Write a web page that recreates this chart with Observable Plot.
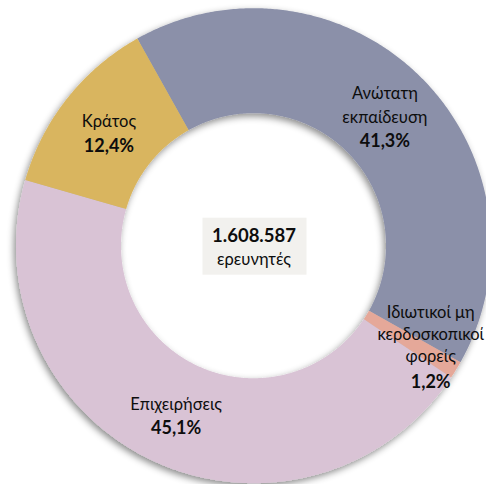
<!DOCTYPE html>
<html>
<head>
<meta charset="utf-8">
<script src="https://cdn.jsdelivr.net/npm/d3@7"></script>
<script src="https://cdn.jsdelivr.net/npm/@observablehq/plot@0.6"></script>
<style>
  html, body { margin: 0; padding: 0; background: #fff; }
  #chart { width: 486px; height: 484px; overflow: hidden; }
</style>
</head>
<body>
<div id="chart"></div>
<script>
// ---- data ----
const sectors = ["Ανώτατη\nεκπαίδευση", "Ιδιωτικοί μη\nκερδοσκοπικοί\nφορείς", "Επιχειρήσεις", "Κράτος"];
const shares = [41.3, 1.2, 45.1, 12.4];
const shareLabels = ["41,3%", "1,2%", "45,1%", "12,4%"];
const colors = ["#8b90a9", "#e5a899", "#d9c3d5", "#d9b55e"];
const totalLabel = "1.608.587";
const totalUnit = "ερευνητές";

// ---- geometry (layout constants) ----
const W = 486, H = 484;
const cx = 253.5, cy = 245.7, R = 237.5;   // pixel centre & outer radius
const inner = 0.558;                        // hole size relative to outer radius
const startDeg = -29.3;                     // first slice angle (clockwise from north)

const total = d3.sum(shares);
let acc = 0;
const slices = sectors.map((name, i) => {
  const a0 = startDeg + acc / total * 360;
  acc += shares[i];
  const a1 = startDeg + acc / total * 360;
  return {name, share: shares[i], label: shareLabels[i], a0, a1, mid: (a0 + a1) / 2};
});

// sample arc outlines for the area mark
const ringPts = [];
for (const s of slices) {
  const n = Math.max(2, Math.ceil((s.a1 - s.a0) / 0.5));
  for (let k = 0; k <= n; k++) {
    const t = (s.a0 + (s.a1 - s.a0) * k / n) * Math.PI / 180;
    ringPts.push({name: s.name, x1: Math.sin(t), y1: Math.cos(t), x2: inner * Math.sin(t), y2: inner * Math.cos(t)});
  }
}

const rl = (1 + inner) / 2;
const labels = slices.map(s => {
  const t = s.mid * Math.PI / 180;
  const nLines = s.name.split("\n").length;
  return {
    ...s,
    x: rl * Math.sin(t), y: rl * Math.cos(t),
    nameText: s.name + "\n",
    pctText: "\n".repeat(nLines) + s.label
  };
});
const big = labels.filter(d => d.share >= 5);
const small = labels.filter(d => d.share < 5);

const font = "Lato";
const fs = 16.5;
const pfs = 18;

const plot = Plot.plot({
  width: W, height: H,
  margin: 0,
  x: {domain: [-cx / R, (W - cx) / R], range: [0, W], axis: null},
  y: {domain: [-(H - cy) / R, cy / R], range: [H, 0], axis: null},
  color: {domain: sectors, range: colors},
  style: {fontFamily: font, background: "#fff"},
  marks: [
    Plot.area(ringPts, {x1: "x1", y1: "y1", x2: "x2", y2: "y2", z: "name", fill: "name", curve: "linear"}),
    // centre box
    Plot.rect([{x: 0, y: 0}], {x1: "x", x2: "x", y1: "y", y2: "y", fill: "#f2f1ee",
      insetLeft: -51, insetRight: -53, insetTop: -28, insetBottom: -29}),
    Plot.text([totalLabel], {x: () => 0, y: () => 0, text: d => d, fontSize: 18.5, fontWeight: "bold",
      fill: "#0d0d0d", dy: -10}),
    Plot.text([totalUnit], {x: () => 0, y: () => 0, text: d => d, fontSize: fs,
      fill: "#0d0d0d", dy: 14}),
    // slice labels
    Plot.text(big, {x: "x", y: "y", text: "nameText", fontSize: fs, lineHeight: 23.5 / fs, lineAnchor: "middle", fill: "#0d0d0d"}),
    Plot.text(big, {x: "x", y: "y", text: "pctText", fontSize: pfs, fontWeight: "bold", lineHeight: 23.5 / pfs, lineAnchor: "middle", fill: "#0d0d0d", dy: 1}),
    Plot.text(small, {x: "x", y: "y", text: "nameText", fontSize: fs, lineHeight: 22 / fs, lineAnchor: "middle", fill: "#0d0d0d", dx: 19, dy: 1}),
    Plot.text(small, {x: "x", y: "y", text: "pctText", fontSize: pfs, fontWeight: "bold", lineHeight: 22 / pfs, lineAnchor: "middle", fill: "#0d0d0d", dx: 19, dy: 5})
  ]
});

// soft drop shadow on the ring (as in the original)
const svg = d3.select(plot);
const defs = svg.insert("defs", ":first-child");
const f = defs.append("filter").attr("id", "ringShadow").attr("x", "-20%").attr("y", "-20%").attr("width", "140%").attr("height", "140%");
f.append("feDropShadow").attr("dx", -2).attr("dy", 3).attr("stdDeviation", 3.5).attr("flood-color", "#000").attr("flood-opacity", 0.45);
svg.select('g[aria-label="area"]').attr("filter", "url(#ringShadow)");

document.getElementById("chart").appendChild(plot);
</script>
</body>
</html>
